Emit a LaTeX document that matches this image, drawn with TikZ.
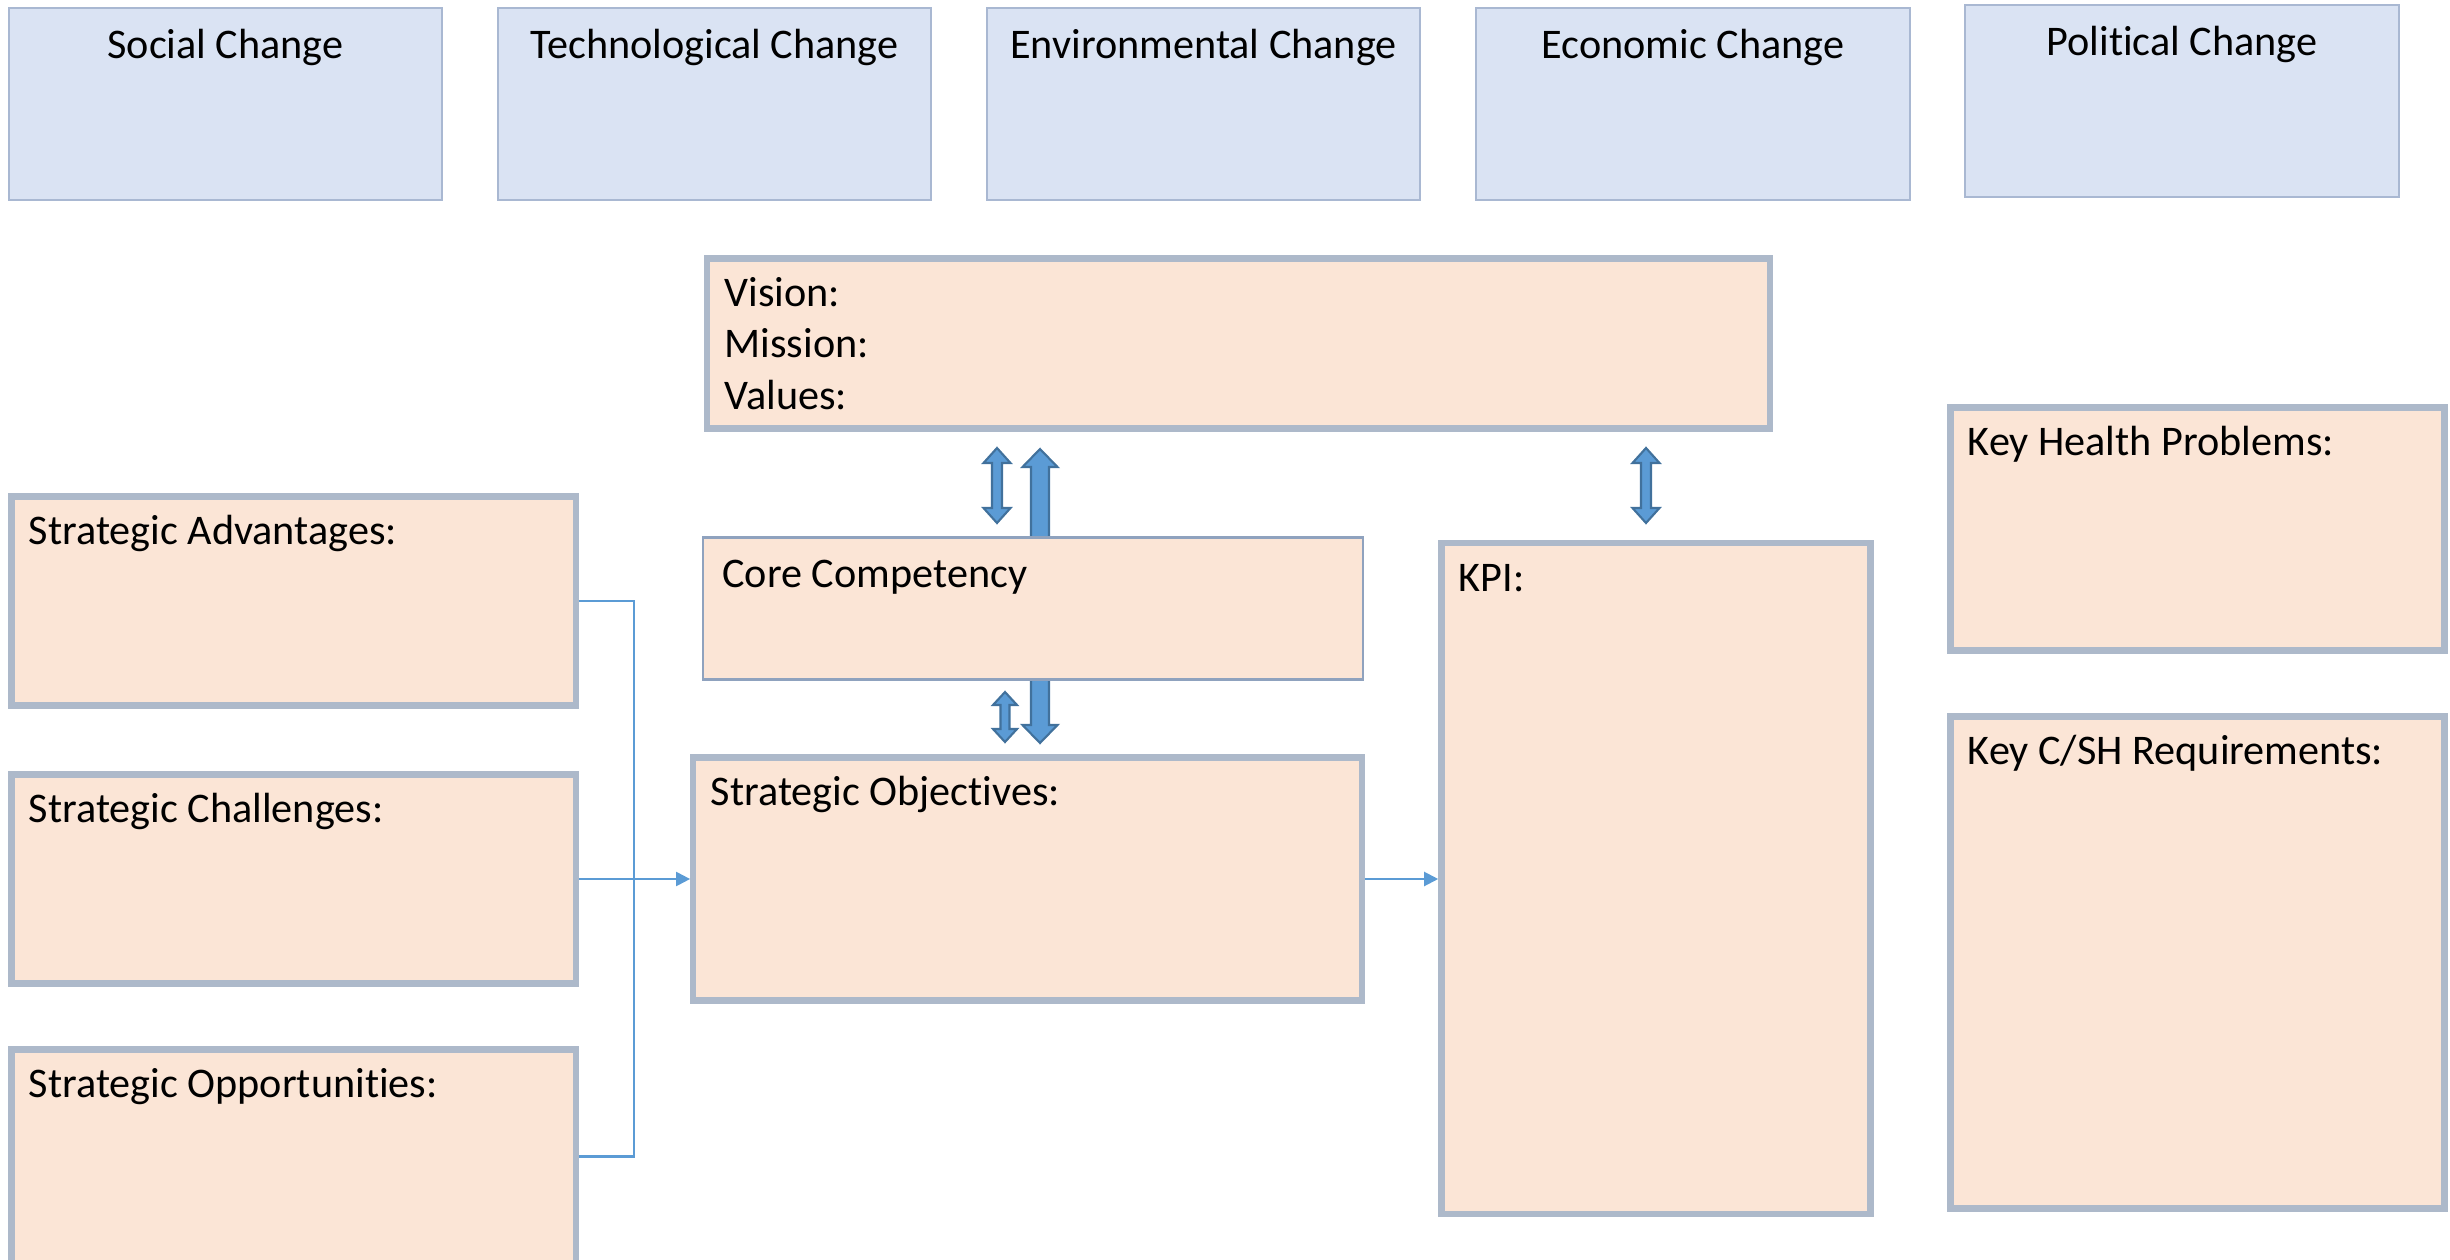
\documentclass[tikz,border=0pt]{standalone}
\usepackage{fontspec}
\setmainfont{Carlito}[Ligatures=NoCommon]
\usetikzlibrary{arrows.meta}

\definecolor{peach}{HTML}{FBE5D6}
\definecolor{peachedge}{HTML}{ADB9CA}
\definecolor{skyfill}{HTML}{DAE3F3}
\definecolor{skyedge}{HTML}{A9B8D2}
\definecolor{coreedge}{HTML}{8FA2BE}
\definecolor{linkblue}{HTML}{5B9BD5}
\definecolor{arrowedge}{HTML}{41719C}

\tikzset{
  change/.style={draw=skyedge, fill=skyfill, line width=0.6pt, inner sep=0pt,
    minimum width=4.33cm, minimum height=1.92cm,
    label={[anchor=base, yshift=-0.52cm, inner sep=0pt]north:{#1}}},
  field/.style={draw=peachedge, fill=peach, line width=1.8pt, inner sep=0pt},
  caption/.style={label={[anchor=base west, shift={(0.2cm,-0.51cm)}, inner sep=0pt]north west:{#1}}},
  link/.style={draw=linkblue, line width=0.6pt},
  fat/.style={fill=linkblue, draw=arrowedge, line width=0.6pt},
}

% x, top, bottom, half shaft, half head, head length
\newcommand{\fatarrow}[6]{%
  \draw[fat] (#1,#2) -- (#1+#5,#2+#6) -- (#1+#4,#2+#6) -- (#1+#4,#3-#6)
    -- (#1+#5,#3-#6) -- (#1,#3) -- (#1-#5,#3-#6) -- (#1-#4,#3-#6)
    -- (#1-#4,#2+#6) -- (#1-#5,#2+#6) -- cycle;}

\begin{document}
\begin{tikzpicture}
      [x=0.01cm, y=-0.01cm, font=\fontsize{12}{14.65}\selectfont]
      \useasboundingbox (0,0) rectangle (2450,1260);
      % outside changes
      \node[change={Social Change}] (social) at (225.5,104) {};
      \node[change={Technological Change}] (tech) at (714.5,104) {};
      \node[change={Environmental Change}] (env) at (1203.5,104) {};
      \node[change={Economic Change}] (econ) at (1693,104) {};
      \node[change={Political Change}] (pol) at (2182,101) {};
      % centre column
      \node[field, minimum width=10.62cm, minimum height=1.70cm,
        label={[anchor=north west, align=left, shift={(0.2cm,-0.21cm)}, inner sep=0pt]north west:{Vision:\\Mission:\\Values:}}]
        (vmv) at (1238.5,343.5) {};
      \fatarrow{1040}{449}{743}{9}{17.5}{18}
      \node[field, draw=coreedge, line width=0.6pt, caption={Core Competency},
        minimum width=6.60cm, minimum height=1.42cm] (core) at (1033,608.5) {};
      \node[field, caption={Strategic Objectives:},
        minimum width=6.68cm, minimum height=2.43cm] (obj) at (1027.5,879) {};
      \node[field, caption={KPI:},
        minimum width=4.29cm, minimum height=6.70cm] (kpi) at (1656,878.5) {};
      \fatarrow{997}{448}{523}{5}{13.5}{15}
      \fatarrow{1005}{692}{742}{4.5}{12}{13}
      \fatarrow{1646}{448}{523}{5}{13.5}{15}
      % left column
      \node[field, caption={Strategic Advantages:},
        minimum width=5.64cm, minimum height=2.09cm] (adv) at (293.5,601) {};
      \node[field, caption={Strategic Challenges:},
        minimum width=5.64cm, minimum height=2.09cm] (chal) at (293.5,879) {};
      \node[field, caption={Strategic Opportunities:},
        minimum width=5.64cm, minimum height=2.14cm] (opp) at (293.5,1156.5) {};
      % right column
      \node[field, caption={Key Health Problems:},
        minimum width=4.94cm, minimum height=2.43cm] (health) at (2197.5,529) {};
      \node[field, caption={Key C/SH Requirements:},
        minimum width=4.94cm, minimum height=4.92cm] (req) at (2197.5,962.5) {};
      % connectors
      \coordinate (bus) at (634,879);
      \draw[link] (adv.east) -| (bus);
      \draw[link] (opp.east) -| (bus);
      \draw[link, -{Triangle[length=4pt, width=4pt]}] (chal.east) -- (obj.west);
      \draw[link, -{Triangle[length=4pt, width=4pt]}] (obj.east) -- (obj.east -| kpi.west);
\end{tikzpicture}
\end{document}
